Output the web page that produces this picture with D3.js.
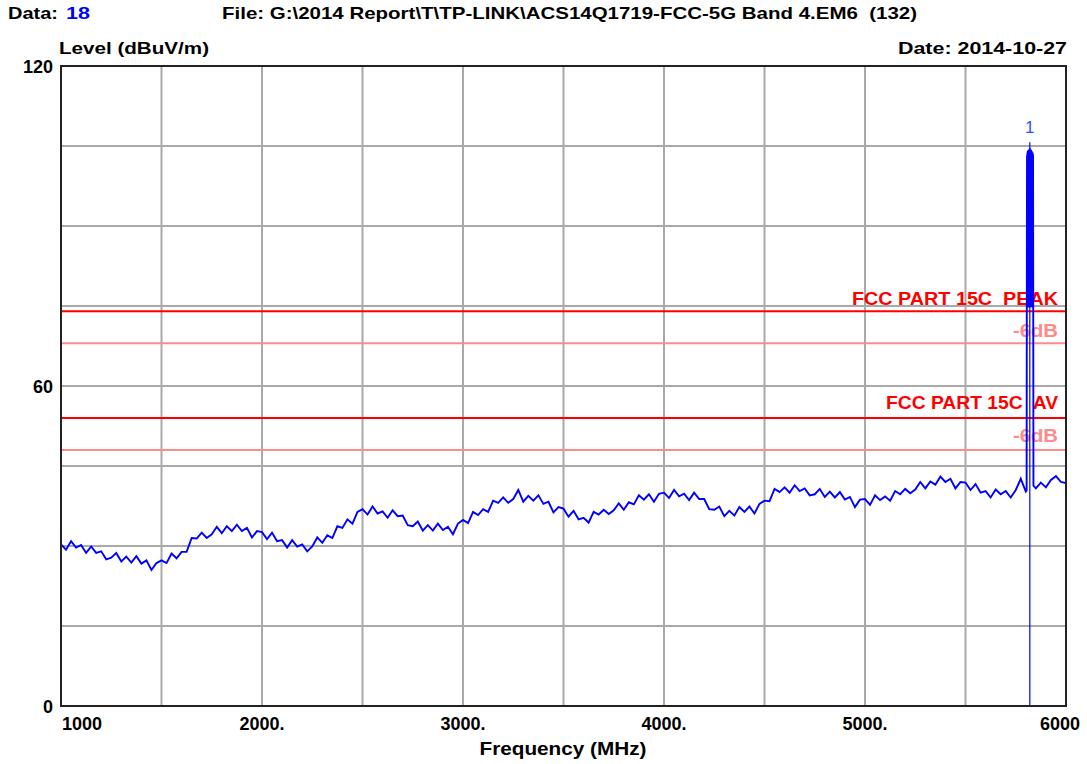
<!DOCTYPE html>
<html>
<head>
<meta charset="utf-8">
<script src="https://cdn.jsdelivr.net/npm/d3@7"></script>
<style>
  html, body { margin: 0; padding: 0; background: #fff; }
  svg { display: block; }
  text { font-family: "Liberation Sans", Arial, sans-serif; font-weight: bold; white-space: pre; }
</style>
</head>
<body>
<svg id="chart" width="1087" height="764"></svg>
<script>
// ---------------- data ----------------
const freqStart = 1000, freqEnd = 6000, freqStep = 25;   // MHz sampling of the trace
const traceLevels = [
  30.3, 29.3, 30.9, 29.7, 30.2, 28.7, 29.9, 28.7, 29.0, 27.5,
  27.8, 28.7, 27.1, 28.0, 26.9, 28.1, 26.7, 27.3, 25.5, 26.8,
  27.3, 26.8, 28.6, 27.7, 28.9, 28.9, 31.5, 31.4, 32.5, 31.5,
  32.2, 33.6, 32.4, 33.7, 32.8, 34.0, 32.8, 33.4, 31.6, 32.8,
  32.6, 31.3, 32.5, 30.9, 31.1, 29.7, 31.1, 29.9, 30.3, 29.0,
  29.9, 31.6, 30.6, 32.0, 31.5, 33.7, 33.4, 35.0, 34.2, 36.4,
  36.9, 35.9, 37.4, 36.1, 36.5, 35.3, 36.7, 35.6, 35.7, 33.9,
  33.7, 34.6, 32.9, 33.9, 32.9, 34.2, 33.0, 33.6, 32.2, 34.2,
  34.9, 34.3, 36.4, 35.8, 36.9, 36.4, 38.5, 38.1, 39.1, 38.1,
  38.8, 40.5, 38.3, 39.4, 38.5, 39.5, 37.9, 38.3, 36.3, 37.3,
  37.0, 35.5, 36.6, 35.0, 35.3, 34.4, 36.4, 35.9, 36.8, 36.0,
  36.7, 38.0, 36.8, 38.2, 37.8, 39.5, 38.7, 39.7, 38.3, 39.8,
  40.0, 39.0, 40.5, 39.3, 39.8, 38.6, 40.0, 38.8, 38.8, 36.9,
  36.8, 37.4, 35.6, 36.6, 35.7, 37.3, 36.4, 37.4, 36.1, 37.9,
  38.5, 38.4, 40.7, 40.1, 41.0, 40.0, 41.4, 40.3, 40.8, 39.5,
  39.7, 40.7, 39.2, 40.2, 39.1, 40.1, 38.7, 39.2, 37.3, 38.7,
  38.8, 37.7, 39.5, 38.6, 39.3, 38.5, 40.3, 39.7, 40.7, 39.9,
  40.6, 42.0, 40.8, 42.1, 41.5, 43.0, 42.0, 42.6, 40.8, 42.0,
  41.9, 40.5, 41.6, 40.0, 40.3, 39.1, 40.6, 39.7, 40.3, 39.1,
  40.5, 42.6, 40.2, 41.0, 40.8, 41.9, 41.0, 42.4, 43.1, 42.0,
  41.8
];
// carrier (band edge) detail, 1 MHz sampling
const peakFreqs = [5804,5805,5806,5807,5808,5809,5810,5811,5812,5813,5814,5815,5816,5817,5818,5819,5820,
                   5821,5822,5823,5824,5825,5826,5827,5828,5829,5830,5831,5832,5833,5834,5835,5836,5837,5838];
const peakLevels = [40.4,74.6,103.2,74.9,103.8,75.2,104.1,74.7,103.6,75.0,104.3,74.8,104.0,75.3,104.4,74.9,104.6,
                    75.1,104.2,74.7,103.9,75.0,104.3,74.8,103.7,75.2,104.0,74.9,103.5,75.1,103.8,74.7,103.4,74.9,41.3];
const markerFreq = 5820, markerLevel = 104.6, markerLabel = "1";

const limitNames  = ["FCC PART 15C  PEAK", "-6dB", "FCC PART 15C  AV", "-6dB"];
const limitLevels = [74, 68, 54, 48];
const limitIsMargin = [false, true, false, true];

const xTickValues = [1000, 2000, 3000, 4000, 5000, 6000];
const xTickLabels = ["1000", "2000.", "3000.", "4000.", "5000.", "6000"];
const yTickValues = [0, 60, 120];
const yTickLabels = ["0", "60", "120"];
const xGrid = [1500, 2000, 2500, 3000, 3500, 4000, 4500, 5000, 5500];
const yGrid = [15, 30, 45, 60, 75, 90, 105];

const titleText = "File: G:\\2014 Report\\T\\TP-LINK\\ACS14Q1719-FCC-5G Band 4.EM6  (132)";
const dataLabel = "Data:", dataNumber = "18";
const yAxisTitle = "Level (dBuV/m)", xAxisTitle = "Frequency (MHz)", dateText = "Date: 2014-10-27";

// ---------------- chart ----------------
const svg = d3.select("#chart");
const L = 61, R = 1066, T = 66, B = 706;
const x = d3.scaleLinear().domain([freqStart, freqEnd]).range([L, R]);
const y = d3.scaleLinear().domain([0, 120]).range([B, T]);

// grid
const grid = svg.append("g");
grid.selectAll(".vg").data(xGrid).join("line")
  .attr("x1", d => x(d)).attr("x2", d => x(d)).attr("y1", T).attr("y2", B)
  .attr("stroke", "#a9a9a9").attr("stroke-width", 2);
grid.selectAll(".hg").data(yGrid).join("line")
  .attr("x1", L).attr("x2", R).attr("y1", d => y(d)).attr("y2", d => y(d))
  .attr("stroke", "#a9a9a9").attr("stroke-width", 2);

// limit lines
const lim = svg.append("g");
limitLevels.forEach((lv, i) => {
  const col = limitIsMargin[i] ? "#ff8a8a" : "#ff0000";
  lim.append("line").attr("x1", L).attr("x2", R).attr("y1", y(lv)).attr("y2", y(lv))
    .attr("stroke", col).attr("stroke-width", 2);
});

// limit labels
const limLabelY = [305, 337, 409, 442];
const limLabelW = [206, 45, 172, 45];
limitNames.forEach((n, i) => {
  svg.append("text").attr("x", 1058).attr("y", limLabelY[i]).attr("text-anchor", "end")
    .attr("xml:space", "preserve")
    .attr("fill", limitIsMargin[i] ? "#ff8a8a" : "#ff0000").attr("font-size", 19)
    .attr("textLength", limLabelW[i]).attr("lengthAdjust", "spacingAndGlyphs").text(n);
});

// trace
const base = d3.range(freqStart, freqEnd + 1, freqStep).map((f, i) => [f, traceLevels[i]])
  .filter(d => d[0] < peakFreqs[0] || d[0] > peakFreqs[peakFreqs.length - 1]);
const pk = peakFreqs.map((f, i) => [f, peakLevels[i]]);
const pts = base.concat(pk).sort((a, b) => a[0] - b[0]);
const line = d3.line().x(d => x(d[0])).y(d => y(d[1]));
svg.append("path").datum(pts).attr("d", line)
  .attr("fill", "none").attr("stroke", "#0000ff").attr("stroke-width", 1.9)
  .attr("stroke-linejoin", "miter");

// marker
svg.append("line").attr("x1", x(markerFreq)).attr("x2", x(markerFreq))
  .attr("y1", y(0)).attr("y2", y(markerLevel) - 6)
  .attr("stroke", "#0000ff").attr("stroke-width", 1.2);
svg.append("text").attr("x", x(markerFreq)).attr("y", y(markerLevel) - 15)
  .attr("text-anchor", "middle").attr("fill", "#2b50ff").attr("font-size", 17)
  .style("font-weight", "normal").text(markerLabel);

// frame
svg.append("rect").attr("x", L).attr("y", T).attr("width", R - L).attr("height", B - T)
  .attr("fill", "none").attr("stroke", "#222").attr("stroke-width", 2);

// axis tick labels
xTickValues.forEach((v, i) => {
  const last = i === xTickValues.length - 1, first = i === 0;
  svg.append("text")
    .attr("x", first ? x(v) + 1 : (last ? 1080 : x(v)))
    .attr("y", 730)
    .attr("text-anchor", first ? "start" : (last ? "end" : "middle"))
    .attr("font-size", 18).attr("fill", "#000").text(xTickLabels[i]);
});
yTickValues.forEach((v, i) => {
  svg.append("text").attr("x", 53).attr("y", y(v) + 7).attr("text-anchor", "end")
    .attr("font-size", 18).attr("fill", "#000").text(yTickLabels[i]);
});

// titles
svg.append("text").attr("x", 8).attr("y", 19).attr("font-size", 17).attr("fill", "#000")
  .attr("textLength", 50).attr("lengthAdjust", "spacingAndGlyphs").text(dataLabel);
svg.append("text").attr("x", 66).attr("y", 19).attr("font-size", 17).attr("fill", "#0000ff")
  .attr("textLength", 24).attr("lengthAdjust", "spacingAndGlyphs").text(dataNumber);
svg.append("text").attr("x", 222).attr("y", 19).attr("font-size", 17).attr("fill", "#000")
  .attr("xml:space", "preserve")
  .attr("textLength", 695).attr("lengthAdjust", "spacingAndGlyphs").text(titleText);
svg.append("text").attr("x", 59).attr("y", 54).attr("font-size", 17).attr("fill", "#000")
  .attr("textLength", 150).attr("lengthAdjust", "spacingAndGlyphs").text(yAxisTitle);
svg.append("text").attr("x", 1067).attr("y", 54).attr("font-size", 17).attr("fill", "#000")
  .attr("text-anchor", "end")
  .attr("textLength", 169).attr("lengthAdjust", "spacingAndGlyphs").text(dateText);
svg.append("text").attr("x", 563).attr("y", 755).attr("font-size", 18).attr("fill", "#000")
  .attr("text-anchor", "middle")
  .attr("textLength", 167).attr("lengthAdjust", "spacingAndGlyphs").text(xAxisTitle);
</script>
</body>
</html>
